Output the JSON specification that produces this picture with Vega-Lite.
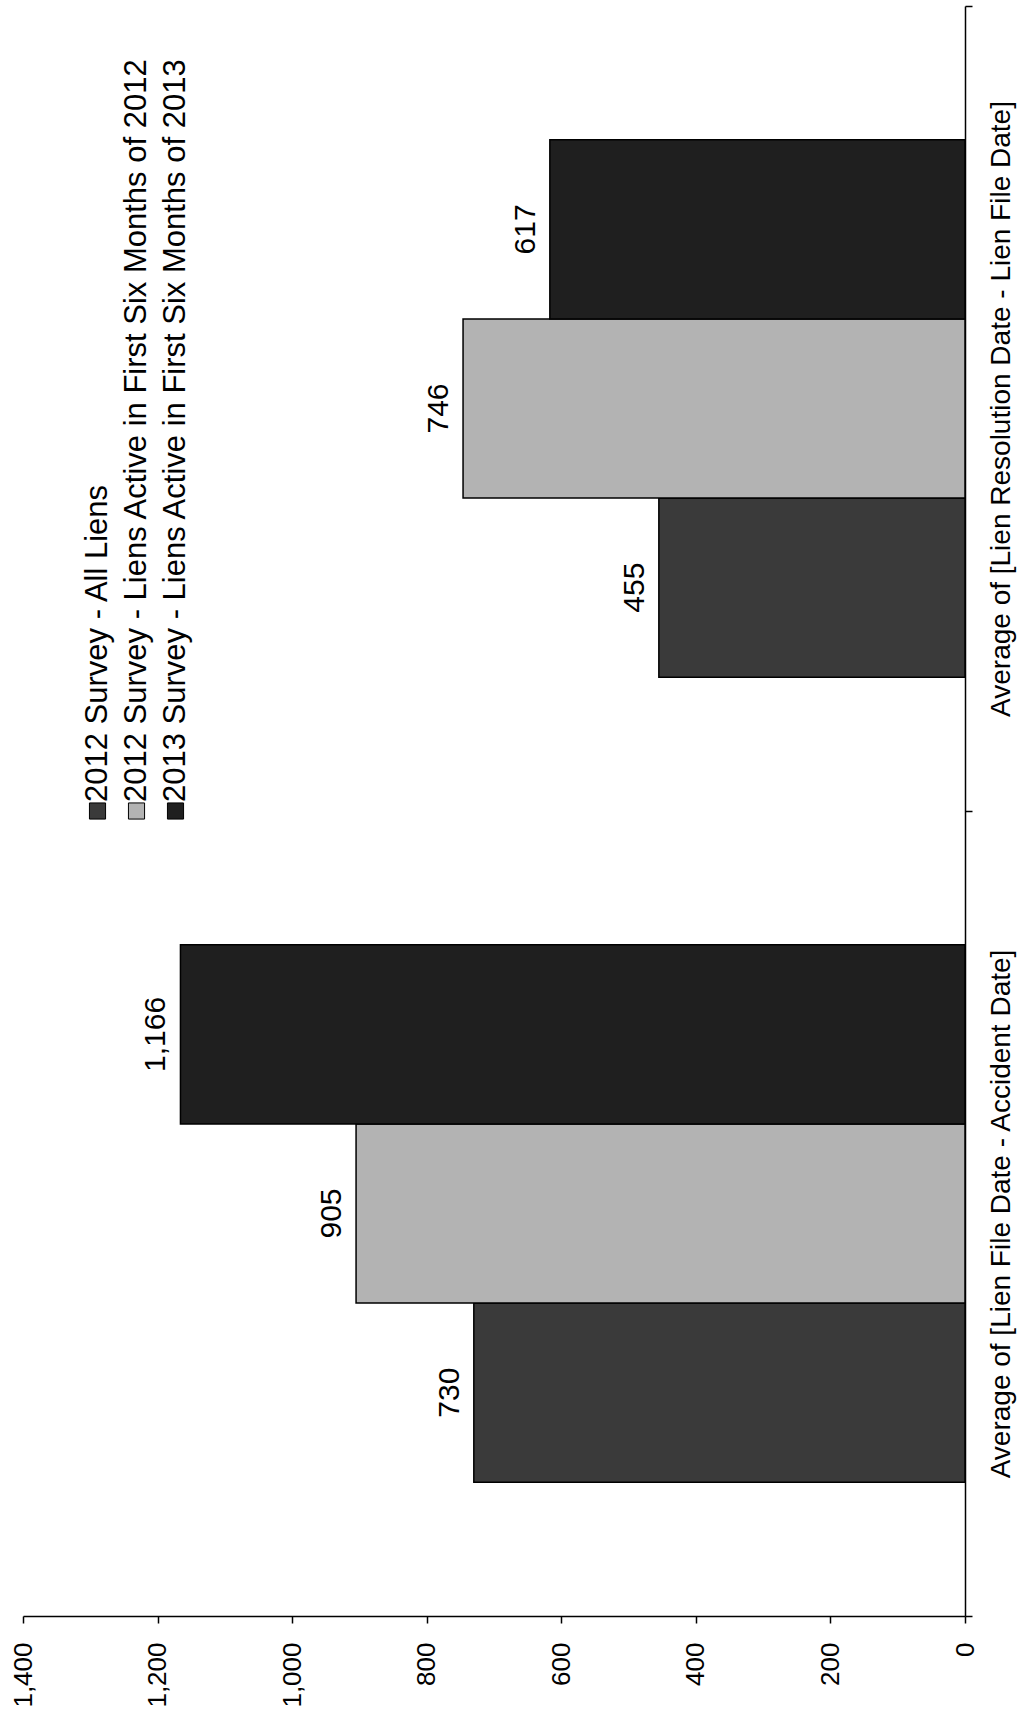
{
  "$schema": "https://vega.github.io/schema/vega-lite/v6.json",
  "width": 942,
  "height": 1610,
  "autosize": {"type": "none"},
  "padding": {"left": 23, "top": 6, "right": 58, "bottom": 99},
  "background": "white",
  "config": {"view": {"stroke": null}, "font": "Liberation Sans"},
  "datasets": {
    "bars": [
      {"cat": "Average of [Lien File Date - Accident Date]", "series": "2012 Survey - All Liens", "value": 730},
      {"cat": "Average of [Lien File Date - Accident Date]", "series": "2012 Survey - Liens Active in First Six Months of 2012", "value": 905},
      {"cat": "Average of [Lien File Date - Accident Date]", "series": "2013 Survey - Liens Active in First Six Months of 2013", "value": 1166},
      {"cat": "Average of [Lien Resolution Date - Lien File Date]", "series": "2012 Survey - All Liens", "value": 455},
      {"cat": "Average of [Lien Resolution Date - Lien File Date]", "series": "2012 Survey - Liens Active in First Six Months of 2012", "value": 746},
      {"cat": "Average of [Lien Resolution Date - Lien File Date]", "series": "2013 Survey - Liens Active in First Six Months of 2013", "value": 617}
    ],
    "legend": [
      {"series": "2012 Survey - All Liens"},
      {"series": "2012 Survey - Liens Active in First Six Months of 2012"},
      {"series": "2013 Survey - Liens Active in First Six Months of 2013"}
    ]
  },
  "layer": [
    {
      "data": {"name": "bars"},
      "layer": [
        {
          "mark": {"type": "bar", "stroke": "black", "strokeWidth": 1.5},
          "encoding": {
            "y": {
              "field": "cat", "type": "nominal",
              "sort": ["Average of [Lien Resolution Date - Lien File Date]", "Average of [Lien File Date - Accident Date]"],
              "scale": {"paddingInner": 0, "paddingOuter": 0},
              "axis": {
                "orient": "right", "title": null, "labelAngle": -90, "labelAlign": "center", "labelBaseline": "top",
                "labelFontSize": 28, "labelColor": "black", "labelLimit": 2000, "tickBand": "extent", "tickSize": 7,
                "tickColor": "black", "tickWidth": 1.5, "domainColor": "black", "domainWidth": 1.5, "labelPadding": 15, "grid": false
              }
            },
            "yOffset": {
              "field": "series", "type": "nominal",
              "sort": ["2013 Survey - Liens Active in First Six Months of 2013", "2012 Survey - Liens Active in First Six Months of 2012", "2012 Survey - All Liens"],
              "scale": {"paddingInner": 0, "paddingOuter": 0.747}
            },
            "x": {
              "field": "value", "type": "quantitative",
              "scale": {"domain": [0, 1400], "reverse": true, "nice": false},
              "axis": {
                "orient": "bottom", "title": null, "values": [0, 200, 400, 600, 800, 1000, 1200, 1400], "format": ",d",
                "labelAngle": -90, "labelAlign": "right", "labelBaseline": "middle", "labelFontSize": 26, "labelColor": "black",
                "tickSize": 7, "tickColor": "black", "tickWidth": 1.5, "domainColor": "black", "domainWidth": 1.5,
                "labelPadding": 19, "grid": false, "labelFlush": false, "labelOverlap": false
              }
            },
            "color": {
              "field": "series", "type": "nominal",
              "scale": {
                "domain": ["2012 Survey - All Liens", "2012 Survey - Liens Active in First Six Months of 2012", "2013 Survey - Liens Active in First Six Months of 2013"],
                "range": ["#3a3a3a", "#b3b3b3", "#1f1f1f"]
              },
              "legend": null
            }
          }
        },
        {
          "mark": {"type": "text", "angle": -90, "align": "center", "baseline": "alphabetic", "dy": -15, "fontSize": 30, "color": "black"},
          "encoding": {
            "y": {"field": "cat", "type": "nominal", "sort": ["Average of [Lien Resolution Date - Lien File Date]", "Average of [Lien File Date - Accident Date]"]},
            "yOffset": {
              "field": "series", "type": "nominal",
              "sort": ["2013 Survey - Liens Active in First Six Months of 2013", "2012 Survey - Liens Active in First Six Months of 2012", "2012 Survey - All Liens"]
            },
            "x": {"field": "value", "type": "quantitative"},
            "text": {"field": "value", "type": "quantitative", "format": ","}
          }
        }
      ]
    },
    {
      "data": {"name": "legend"},
      "layer": [
        {
          "mark": {"type": "point", "shape": "square", "filled": true, "size": 260, "stroke": "black", "strokeWidth": 1, "opacity": 1},
          "encoding": {
            "x": {
              "field": "series", "type": "nominal",
              "scale": {"type": "point", "domain": ["2012 Survey - All Liens", "2012 Survey - Liens Active in First Six Months of 2012", "2013 Survey - Liens Active in First Six Months of 2013"], "range": [55, 172]},
              "axis": null
            },
            "y": {"datum": "Average of [Lien Resolution Date - Lien File Date]", "type": "nominal", "bandPosition": 1},
            "color": {"field": "series", "type": "nominal", "legend": null}
          }
        },
        {
          "mark": {"type": "text", "angle": -90, "align": "left", "baseline": "middle", "dx": 9, "fontSize": 31, "color": "black"},
          "encoding": {
            "x": {"field": "series", "type": "nominal"},
            "y": {"datum": "Average of [Lien Resolution Date - Lien File Date]", "type": "nominal", "bandPosition": 1},
            "text": {"field": "series", "type": "nominal"}
          }
        }
      ]
    }
  ],
  "resolve": {"scale": {"x": "independent"}}
}
